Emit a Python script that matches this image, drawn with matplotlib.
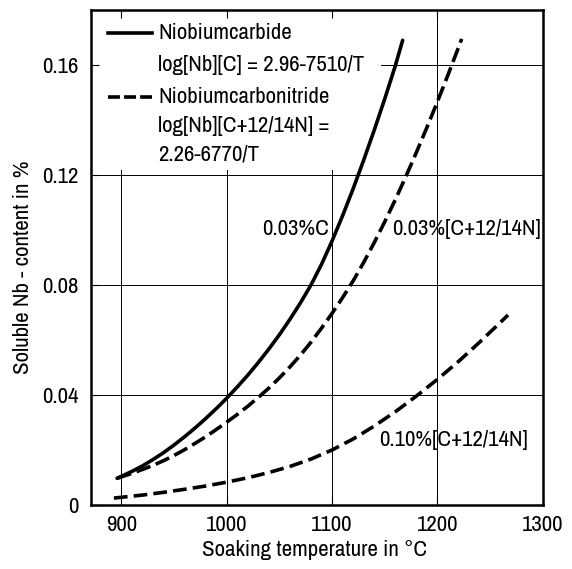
#!/usr/bin/env python3
import matplotlib
matplotlib.use("Agg")
import matplotlib.pyplot as plt
from matplotlib import font_manager

#pick a narrow face if one is around, the original lettering is very condensed
fams = font_manager.fontManager.ttflist
family, stretch, fs = "DejaVu Sans", "normal", 12.5
for f in fams:
    if "Condensed" in f.name or "Narrow" in f.name:
        family, stretch, fs = f.name, "normal", 16.5
        break
else:
    for f in fams:
        if f.stretch in ("condensed", "semi-condensed"):
            family, stretch, fs = f.name, f.stretch, 14
            break
plt.rcParams["font.family"] = [family, "DejaVu Sans"]
plt.rcParams["font.stretch"] = stretch

carbide_T = [896, 900, 910, 920, 930, 940, 950, 960, 970, 980, 990, 1000, 1010, 1020,
             1030, 1040, 1050, 1060, 1070, 1080, 1090, 1100, 1110, 1120, 1130, 1140,
             1150, 1160, 1167]
carbide_nb = [0.0097, 0.0104, 0.0122, 0.0142, 0.0165, 0.0190, 0.0218, 0.0248, 0.0280,
              0.0314, 0.0350, 0.0388, 0.0429, 0.0472, 0.0518, 0.0567, 0.0619, 0.0675,
              0.0735, 0.0800, 0.0875, 0.0960, 0.1052, 0.1150, 0.1254, 0.1363, 0.1477,
              0.1597, 0.1690]

cn03_T = [896, 900, 910, 920, 930, 940, 950, 960, 970, 980, 990, 1000, 1010, 1020,
          1030, 1040, 1050, 1060, 1070, 1080, 1090, 1100, 1110, 1120, 1130, 1140,
          1150, 1160, 1170, 1180, 1190, 1200, 1210, 1220, 1223]
cn03_nb = [0.0097, 0.0102, 0.0115, 0.0129, 0.0144, 0.0161, 0.0180, 0.0201, 0.0224,
           0.0248, 0.0274, 0.0301, 0.0329, 0.0359, 0.0391, 0.0425, 0.0462, 0.0502,
           0.0545, 0.0592, 0.0643, 0.0697, 0.0754, 0.0815, 0.0882, 0.0954, 0.1030,
           0.1110, 0.1194, 0.1282, 0.1373, 0.1467, 0.1564, 0.1664, 0.1695]

cn10_T = [893, 900, 920, 940, 960, 980, 1000, 1020, 1040, 1060, 1080, 1100, 1120,
          1140, 1160, 1180, 1200, 1220, 1240, 1260, 1267]
cn10_nb = [0.0025, 0.0028, 0.0036, 0.0046, 0.0057, 0.0069, 0.0083, 0.0099, 0.0118,
           0.0140, 0.0167, 0.0200, 0.0240, 0.0287, 0.0339, 0.0396, 0.0457, 0.0522,
           0.0592, 0.0665, 0.0691]

xticks = [900, 1000, 1100, 1200, 1300]
yticks = [0, 0.04, 0.08, 0.12, 0.16]
ytick_labels = ["0", "0.04", "0.08", "0.12", "0.16"]

fig = plt.figure(figsize=(5.72, 5.69), dpi=100)
ax = fig.add_axes([0.1586, 0.1125, 0.7904, 0.8699])
ax.set_xlim(871, 1300)
ax.set_ylim(0, 0.18)

#grid, partly left out behind the legend text
gc = "black"
glw = 0.7
for x in [900, 1000, 1100]:
    ax.plot([x, x], [0, 0.122], color=gc, lw=glw, zorder=1)
ax.plot([1200, 1200], [0, 0.18], color=gc, lw=glw, zorder=1)
for y in [0.04, 0.08, 0.12]:
    ax.plot([871, 1300], [y, y], color=gc, lw=glw, zorder=1)
ax.plot([1146, 1300], [0.16, 0.16], color=gc, lw=glw, zorder=1)

lw = 2.6
ax.plot(carbide_T, carbide_nb, color="black", lw=lw, solid_capstyle="round",
        solid_joinstyle="round", zorder=3)
ax.plot(cn03_T, cn03_nb, color="black", lw=lw, dashes=(4.1, 1.6), zorder=3)
ax.plot(cn10_T, cn10_nb, color="black", lw=lw, dashes=(3.8, 1.7), zorder=3)

ax.text(1097, 0.1003, "0.03%C", ha="right", va="center", fontsize=fs)
ax.text(1157, 0.1003, "0.03%[C+12/14N]", ha="left", va="center", fontsize=fs)
ax.text(1145, 0.0235, "0.10%[C+12/14N]", ha="left", va="center", fontsize=fs)

#legend
tr = ax.transAxes
ax.plot([0.038, 0.136], [0.954, 0.954], color="black", lw=lw, transform=tr)
ax.plot([0.038, 0.136], [0.824, 0.824], color="black", lw=lw, dashes=(3.3, 1.15), transform=tr)
ax.text(0.149, 0.954, "Niobiumcarbide", transform=tr, va="center", fontsize=fs)
ax.text(0.149, 0.889, "log[Nb][C] = 2.96-7510/T", transform=tr, va="center", fontsize=fs)
ax.text(0.149, 0.824, "Niobiumcarbonitride", transform=tr, va="center", fontsize=fs)
ax.text(0.149, 0.766, "log[Nb][C+12/14N] =", transform=tr, va="center", fontsize=fs)
ax.text(0.149, 0.709, "2.26-6770/T", transform=tr, va="center", fontsize=fs)

ax.set_xticks(xticks)
ax.set_xticklabels([str(x) for x in xticks])
ax.set_yticks(yticks)
ax.set_yticklabels(ytick_labels)
ax.tick_params(direction="in", length=6, width=0.8, labelsize=fs, top=True)
ax.tick_params(axis="y", pad=9)
ax.tick_params(axis="x", pad=7)
for s in ax.spines.values():
    s.set_linewidth(1.8)

ax.set_xlabel("Soaking temperature in °C", fontsize=fs)
ax.xaxis.set_label_coords(0.495, -0.071)
ax.set_ylabel("Soluble Nb - content in %", fontsize=fs)
ax.yaxis.set_label_coords(-0.128, 0.48)

plt.savefig("out.png", dpi=100)
